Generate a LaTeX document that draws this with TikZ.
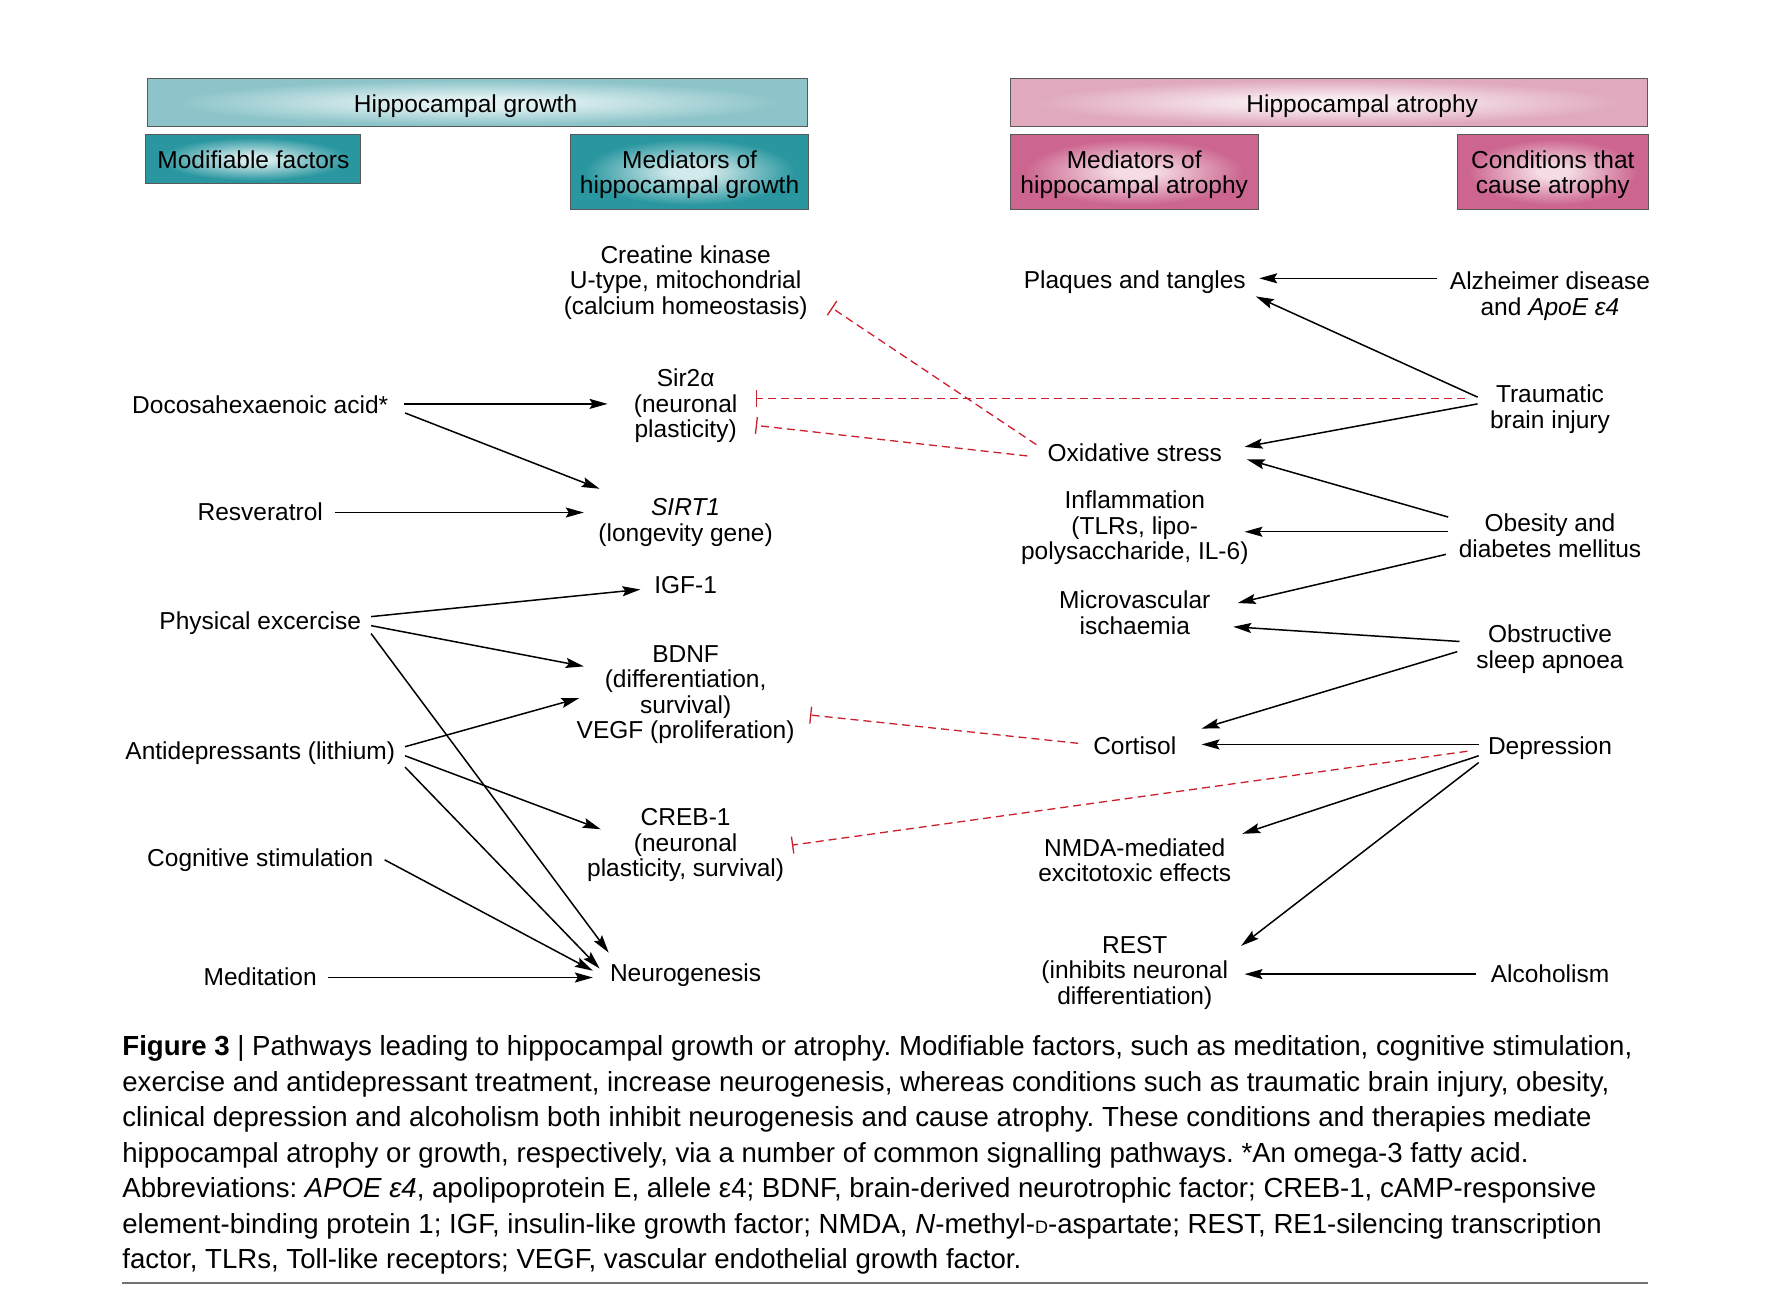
\documentclass[tikz,border=0pt]{standalone}
\usepackage{fontspec}
\setmainfont{Liberation Sans}
\usetikzlibrary{arrows.meta}
\definecolor{tealTopOut}{HTML}{8CC4C9}
\definecolor{tealTopIn}{HTML}{E2F1F2}
\definecolor{tealOut}{HTML}{2A97A0}
\definecolor{tealIn}{HTML}{D3EAEC}
\definecolor{pinkTopOut}{HTML}{E0A9BE}
\definecolor{pinkTopIn}{HTML}{F9EDF2}
\definecolor{pinkOut}{HTML}{CC6690}
\definecolor{pinkIn}{HTML}{F5DCE5}
\definecolor{inhred}{HTML}{CC1F2D}
\pgfdeclareradialshading{tealtopshade}{\pgfpoint{0bp}{0bp}}{color(0bp)=(tealTopIn); color(5bp)=(tealTopIn); color(23bp)=(tealTopOut); color(50bp)=(tealTopOut)}
\pgfdeclareradialshading{tealshade}{\pgfpoint{0bp}{0bp}}{color(0bp)=(tealIn); color(4bp)=(tealIn); color(22bp)=(tealOut); color(50bp)=(tealOut)}
\pgfdeclareradialshading{pinktopshade}{\pgfpoint{0bp}{0bp}}{color(0bp)=(pinkTopIn); color(5bp)=(pinkTopIn); color(23bp)=(pinkTopOut); color(50bp)=(pinkTopOut)}
\pgfdeclareradialshading{pinkshade}{\pgfpoint{0bp}{0bp}}{color(0bp)=(pinkIn); color(4bp)=(pinkIn); color(22bp)=(pinkOut); color(50bp)=(pinkOut)}
\newcommand\mystrut{\rule[-6pt]{0pt}{30.5pt}}
\newcommand\hdstrut{\rule[-6pt]{0pt}{31.5pt}}
\newcommand\lblfont{\fontsize{24.5}{25.5}\selectfont\lineskiplimit=-100pt\relax}
\tikzset{
  hdr/.style={draw=black!65, line width=1pt, font=\lblfont, align=center, inner sep=0pt},
  lbl/.style={font=\lblfont, align=center, inner sep=0pt},
  captext/.style={font=\fontsize{27.6}{28}\selectfont\frenchspacing, anchor=base west, inner sep=0pt},
  arr/.style={line width=1.5pt, -{Stealth[length=18pt,width=10pt,inset=3pt]}},
  inh/.style={draw=inhred, line width=1.3pt, dash pattern=on 8pt off 5pt, -{Bar[width=17pt,line width=1.3pt]}}
}
\begin{document}
\begin{tikzpicture}[x=1.1314pt, y=-1.1314pt]
\useasboundingbox[fill=white] (0,0) rectangle (1568,1142);
% headers
\node[hdr, shading=tealtopshade, minimum width=584*1.1314pt, minimum height=43*1.1314pt] (hg) at (422,90.5) {\hdstrut Hippocampal growth\hspace*{23.8pt}};
\node[hdr, shading=tealshade, minimum width=190*1.1314pt, minimum height=43*1.1314pt] (mf) at (224,140.5) {\mystrut Modifiable factors};
\node[hdr, shading=tealshade, minimum width=211*1.1314pt, minimum height=66*1.1314pt] (mg) at (609.5,152) {\mystrut Mediators of\\\mystrut hippocampal growth};
\node[hdr, shading=pinktopshade, minimum width=563*1.1314pt, minimum height=43*1.1314pt] (ha) at (1174.5,90.5) {\hspace*{66.8pt}\hdstrut Hippocampal atrophy};
\node[hdr, shading=pinkshade, minimum width=219*1.1314pt, minimum height=66*1.1314pt] (ma) at (1002.5,152) {\mystrut Mediators of\\\mystrut hippocampal atrophy};
\node[hdr, shading=pinkshade, minimum width=169*1.1314pt, minimum height=66*1.1314pt] (ca) at (1372.5,152) {\mystrut Conditions that\\\mystrut cause atrophy};
% left column
\node[lbl] (dha) at (230,357) {\mystrut Docosahexaenoic acid*};
\node[lbl] (res) at (230,452) {\mystrut Resveratrol};
\node[lbl] (pe) at (230,548) {\mystrut Physical excercise};
\node[lbl] (ad) at (230,663) {\mystrut Antidepressants (lithium)};
\node[lbl] (cs) at (230,758) {\mystrut Cognitive stimulation};
\node[lbl] (med) at (230,863) {\mystrut Meditation};
% middle column
\node[lbl] (ck) at (606,247) {\mystrut Creatine kinase\\\mystrut U-type, mitochondrial\\\mystrut (calcium homeostasis)};
\node[lbl] (sir) at (606,356) {\mystrut Sir2α\\\mystrut (neuronal\\\mystrut plasticity)};
\node[lbl] (sirt) at (606,459) {\mystrut\textit{SIRT1}\\\mystrut (longevity gene)};
\node[lbl] (igf) at (606,516) {\mystrut IGF-1};
\node[lbl] (bdnf) at (606,611) {\mystrut BDNF\\\mystrut (differentiation,\\\mystrut survival)\\\mystrut VEGF (proliferation)};
\node[lbl] (creb) at (606,744) {\mystrut CREB-1\\\mystrut (neuronal\\\mystrut plasticity, survival)};
\node[lbl] (neuro) at (606,859) {\mystrut Neurogenesis};
% atrophy mediators
\node[lbl] (plq) at (1003,247) {\mystrut Plaques and tangles};
\node[lbl] (ox) at (1003,400) {\mystrut Oxidative stress};
\node[lbl] (inf) at (1003,464) {\mystrut Inflammation\\\mystrut (TLRs, lipo-\\\mystrut polysaccharide, IL-6)};
\node[lbl] (mv) at (1003,541) {\mystrut Microvascular\\\mystrut ischaemia};
\node[lbl] (cort) at (1003,659) {\mystrut Cortisol};
\node[lbl] (nmda) at (1003,760) {\mystrut NMDA-mediated\\\mystrut excitotoxic effects};
\node[lbl] (rest) at (1003,857) {\mystrut REST\\\mystrut (inhibits neuronal\\\mystrut differentiation)};
% conditions
\node[lbl] (alz) at (1370,259) {\mystrut Alzheimer disease\\\mystrut and \textit{ApoE ε4}};
\node[lbl] (tbi) at (1370,359) {\mystrut Traumatic\\\mystrut brain injury};
\node[lbl] (ob) at (1370,473) {\mystrut Obesity and\\\mystrut diabetes mellitus};
\node[lbl] (osa) at (1370,571) {\mystrut Obstructive\\\mystrut sleep apnoea};
\node[lbl] (dep) at (1370,659) {\mystrut Depression};
\node[lbl] (alc) at (1370,860) {\mystrut Alcoholism};
% growth arrows
\draw[arr] ([shift={(127,0)}]dha.center) -- ([shift={(-69,1)}]sir.center);
\draw[arr] ([shift={(128,8)}]dha.center) -- ([shift={(-76,-27)}]sirt.center);
\draw[arr] ([shift={(66,1)}]res.center) -- ([shift={(-90,-6)}]sirt.center);
\draw[arr] ([shift={(98,-3)}]pe.center) -- ([shift={(-40,5)}]igf.center);
\draw[arr] ([shift={(98,5)}]pe.center) -- ([shift={(-90,-22)}]bdnf.center);
\draw[arr] ([shift={(98,12)}]pe.center) -- ([shift={(-68,-17)}]neuro.center);
\draw[arr] ([shift={(128,-3)}]ad.center) -- ([shift={(-94,6)}]bdnf.center);
\draw[arr] ([shift={(128,5)}]ad.center) -- ([shift={(-75,-11)}]creb.center);
\draw[arr] ([shift={(128,15)}]ad.center) -- ([shift={(-76,-3)}]neuro.center);
\draw[arr] ([shift={(110,2)}]cs.center) -- ([shift={(-82,-1)}]neuro.center);
\draw[arr] ([shift={(60,1)}]med.center) -- ([shift={(-82,5)}]neuro.center);
% atrophy arrows
\draw[arr] ([shift={(-100,-13)}]alz.center) -- ([shift={(110,-1)}]plq.center);
\draw[arr] ([shift={(-64,-8)}]tbi.center) -- ([shift={(107,15)}]plq.center);
\draw[arr] ([shift={(-64,-2)}]tbi.center) -- ([shift={(97,-5)}]ox.center);
\draw[arr] ([shift={(-90,-16)}]ob.center) -- ([shift={(99,6)}]ox.center);
\draw[arr] ([shift={(-90,-3)}]ob.center) -- ([shift={(97,6)}]inf.center);
\draw[arr] ([shift={(-92,17)}]ob.center) -- ([shift={(91,-8)}]mv.center);
\draw[arr] ([shift={(-80,-4)}]osa.center) -- ([shift={(87,13)}]mv.center);
\draw[arr] ([shift={(-82,5)}]osa.center) -- ([shift={(59,-15)}]cort.center);
\draw[arr] ([shift={(-63,-1)}]dep.center) -- ([shift={(59,-1)}]cort.center);
\draw[arr] ([shift={(-63,9)}]dep.center) -- ([shift={(95,-23)}]nmda.center);
\draw[arr] ([shift={(-63,15)}]dep.center) -- ([shift={(94,-21)}]rest.center);
\draw[arr] ([shift={(-65,1)}]alc.center) -- ([shift={(97,4)}]rest.center);
% inhibitory
\draw[inh] ([shift={(-87,-7)}]ox.center) -- ([shift={(129,25)}]ck.center);
\draw[inh] ([shift={(-75,-7)}]tbi.center) -- ([shift={(62,-4)}]sir.center);
\draw[inh] ([shift={(-95,3)}]ox.center) -- ([shift={(62,20)}]sir.center);
\draw[inh] ([shift={(-50,-2)}]cort.center) -- ([shift={(110,21)}]bdnf.center);
\draw[inh] ([shift={(-73,5)}]dep.center) -- ([shift={(94,3)}]creb.center);
% caption
\node[captext] (c1) at (108,932.5) {\textbf{Figure 3} | Pathways leading to hippocampal growth or atrophy. Modifiable factors, such as meditation, cognitive stimulation,};
\node[captext] (c2) at (108,964.5) {exercise and antidepressant treatment, increase neurogenesis, whereas conditions such as traumatic brain injury, obesity,};
\node[captext] (c3) at (108,995.5) {clinical depression and alcoholism both inhibit neurogenesis and cause atrophy. These conditions and therapies mediate};
\node[captext] (c4) at (108,1027.5) {hippocampal atrophy or growth, respectively, via a number of common signalling pathways. *An omega-3 fatty acid.};
\node[captext] (c5) at (108,1058.5) {Abbreviations: \textit{APOE ε4}, apolipoprotein E, allele ε4; BDNF, brain-derived neurotrophic factor; CREB-1, cAMP-responsive};
\node[captext] (c6) at (108,1090.5) {element-binding protein 1; IGF, insulin-like growth factor; NMDA, \textit{N}-methyl-{\fontsize{18}{18}\selectfont D}-aspartate; REST, RE1-silencing transcription};
\node[captext] (c7) at (108,1121.5) {factor, TLRs, Toll-like receptors; VEGF, vascular endothelial growth factor.};
\draw[line width=1.6pt, black!55] (108,1134) -- (1457,1134);
\end{tikzpicture}
\end{document}
